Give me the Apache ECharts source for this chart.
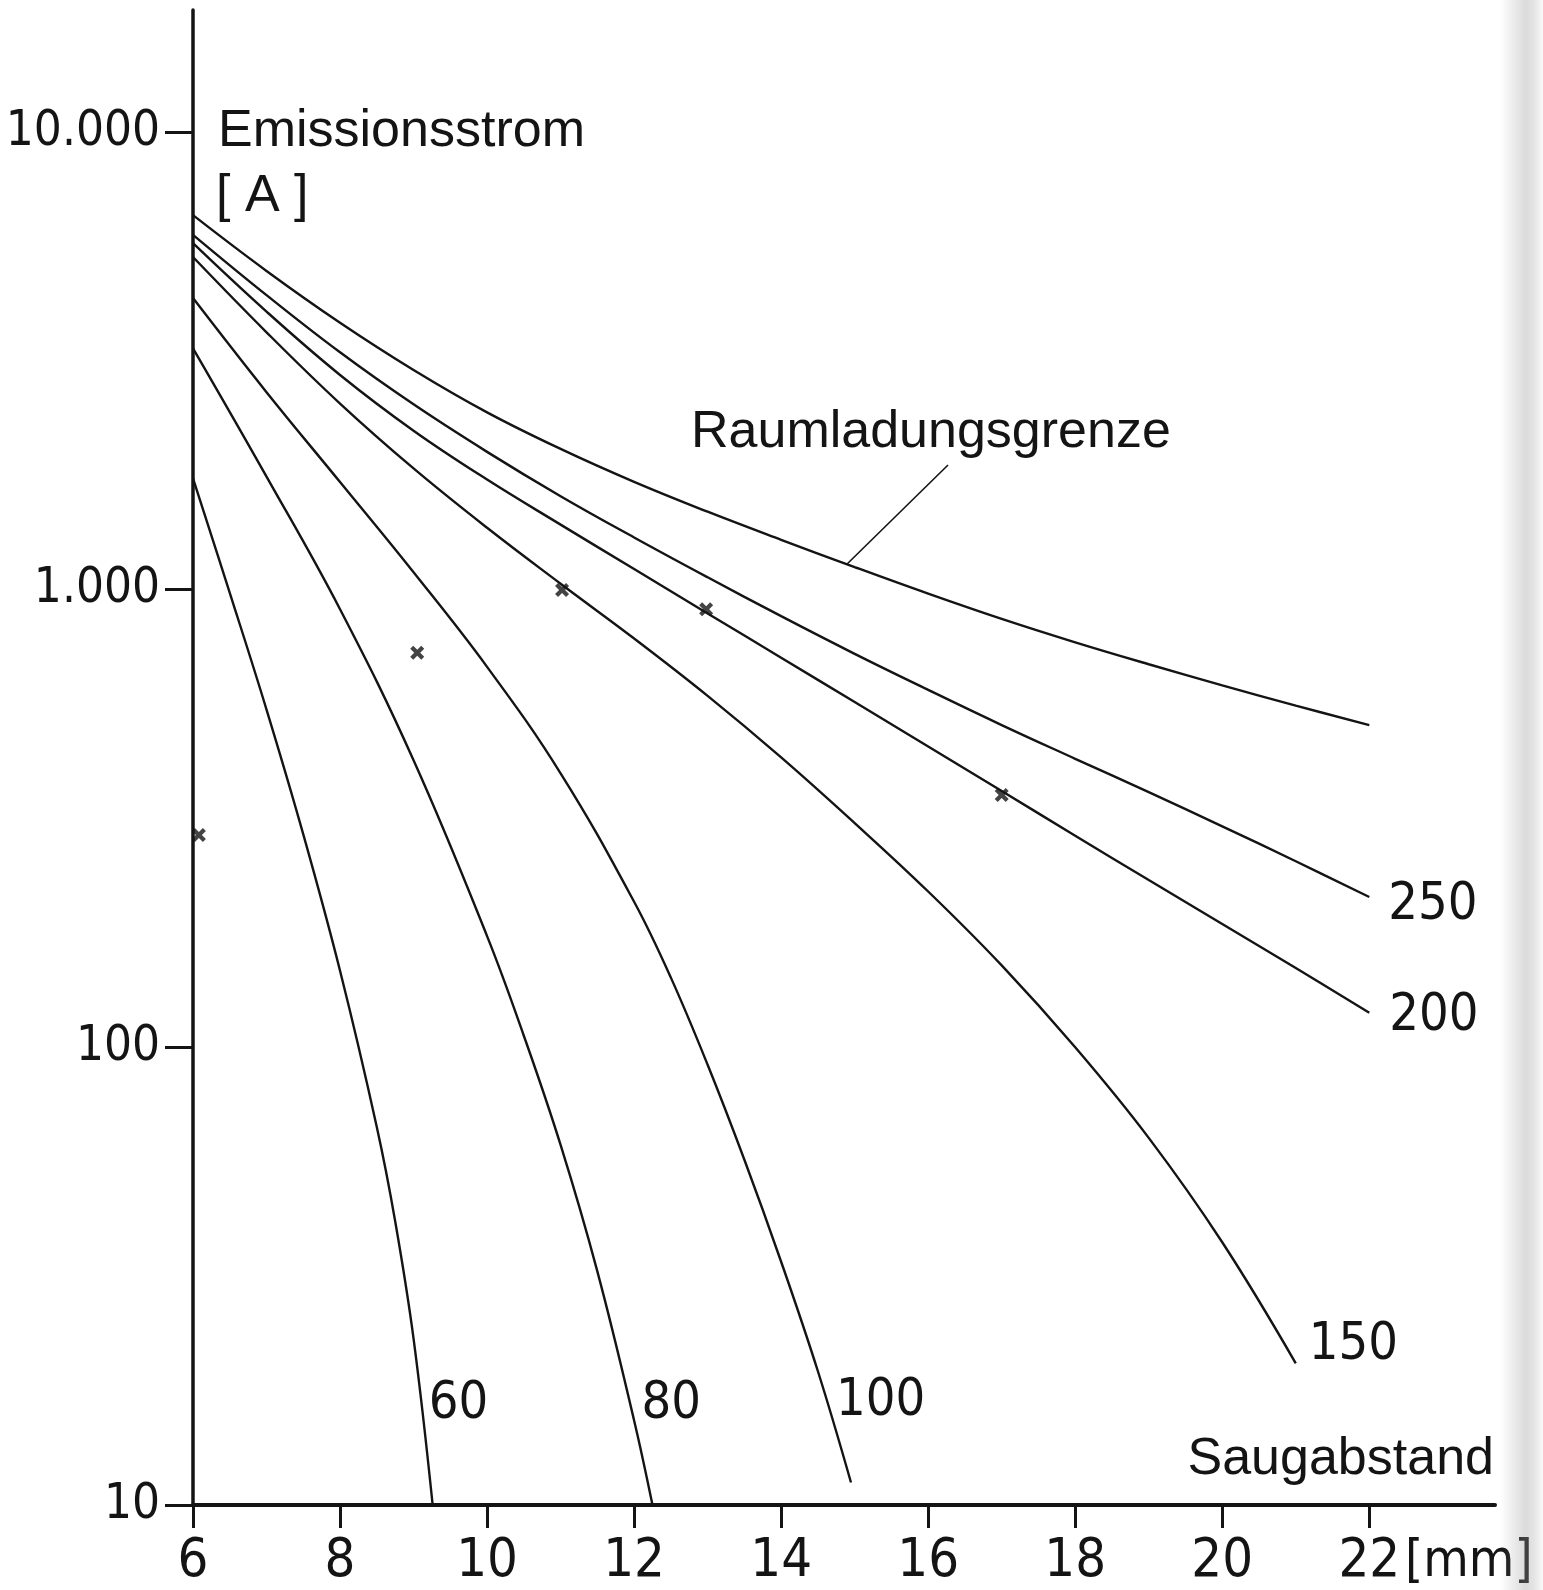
<!DOCTYPE html>
<html>
<head>
<meta charset="utf-8">
<title>Emissionsstrom</title>
<script src="https://cdn.jsdelivr.net/npm/echarts@6/dist/echarts.min.js"></script>
<style>
  html, body { margin: 0; padding: 0; background: #fff; }
  #chart { width: 1543px; height: 1590px; }
</style>
</head>
<body>
<div id="chart"></div>
<script>
// === DATA ===
// x: Saugabstand [mm], y: Emissionsstrom [A]
const xTicks = [6, 8, 10, 12, 14, 16, 18, 20, 22];
const yTicks = [10, 100, 1000, 10000];

const raumladungsgrenze = [[6, 6580], [7, 4970], [8, 3830], [9, 3020], [10, 2440], [11, 2030], [12, 1720], [13, 1480], [14, 1285], [15, 1120], [16, 980], [17, 863], [18, 767], [19, 687], [20, 618], [21, 558], [22, 506]];
const curve250 = [[6, 5960], [7, 4400], [8, 3300], [9, 2540], [10, 2000], [11, 1600], [12, 1300], [13, 1064], [14, 875], [15, 724], [16, 604], [17, 506], [18, 427], [19, 361], [20, 304], [21, 255], [22, 213]];
const curve200 = [[6, 5715], [7, 4050], [8, 2945], [9, 2225], [10, 1740], [11, 1387], [12, 1109], [13, 887], [14, 710], [15, 568], [16, 454], [17, 363], [18, 290], [19, 232], [20, 186], [21, 149], [22, 119]];
const curve150 = [[6, 5330], [7, 3650], [8, 2550], [9, 1840], [10, 1365], [11, 1030], [12, 782], [13, 586], [14, 430], [15, 309], [16, 219], [17, 151], [18, 100], [19, 63.4], [20, 37.5], [21, 20.4]];
const curve100 = [[6, 4335], [7, 2700], [8, 1718], [9, 1091], [10, 678], [11, 397], [12, 208], [12.5, 142], [13, 91.6], [13.5, 56.8], [14, 34.0], [14.5, 19.6], [14.95, 11.2]];
const curve80 = [[6, 3367], [7, 1766], [8, 906], [9, 424], [10, 175], [10.5, 106], [11, 61.2], [11.5, 32.4], [12, 15.3], [12.25, 10]];
const curve60 = [[6, 1750], [6.5, 984], [7, 547], [7.5, 292], [8, 147], [8.5, 67], [8.75, 41.7], [9, 23.1], [9.26, 10]];

// measured points (x marks)
const messpunkte = [[6.08, 291], [9.05, 728], [11.02, 998], [12.98, 906], [17.0, 356]];

// leader from the top curve to its caption
const leaderLine = [[14.89, 1135], [16.27, 1872]];

// === STYLE ===
const ink = '#141414';
const textFont = "'Liberation Sans', Arial, sans-serif";
const numFont = "'DejaVu Sans Condensed', 'Liberation Sans', sans-serif";
const crossPath = 'path://M0,3 L3,0 L7,4 L11,0 L14,3 L10,7 L14,11 L11,14 L7,10 L3,14 L0,11 L4,7 Z';

// German thousands separator: 10000 -> 10.000
function formatDe(v) {
    return String(Math.round(v)).replace(/\B(?=(\d{3})+(?!\d))/g, '.');
}

// one line series per curve
function curveSeries(name, data, labelOffset) {
    return {
        name: name,
        type: 'line',
        data: data,
        smooth: 0.4,
        showSymbol: false,
        silent: true,
        lineStyle: { color: ink, width: 2.4 },
        endLabel: {
            show: labelOffset != null,
            formatter: name,
            distance: 0,
            offset: labelOffset || [0, 0],
            fontFamily: numFont,
            fontSize: 52,
            color: ink
        },
        z: 3
    };
}

// === RENDER ===
const chart = echarts.init(document.getElementById('chart'), null, { renderer: 'canvas' });

const option = {
    animation: false,
    backgroundColor: '#ffffff',
    grid: {
        left: 193,
        right: 48,
        top: 10,
        bottom: 85,
        containLabel: false,
        outerBoundsMode: 'none'
    },
    xAxis: {
        type: 'value',
        min: 6,
        max: 23.71,
        axisLine: { show: true, onZero: false, lineStyle: { color: ink, width: 4 } },
        axisTick: { show: true, customValues: xTicks, length: 23, lineStyle: { color: ink, width: 3 } },
        axisLabel: {
            customValues: xTicks,
            margin: 57,
            verticalAlign: 'middle',
            fontFamily: numFont,
            fontSize: 54,
            color: ink
        },
        splitLine: { show: false }
    },
    yAxis: {
        type: 'log',
        logBase: 10,
        min: 10,
        max: 18470,
        axisLine: { show: true, onZero: false, lineStyle: { color: ink, width: 3.5 } },
        axisTick: { show: true, customValues: yTicks, length: 28, lineStyle: { color: ink, width: 3 } },
        axisLabel: {
            customValues: yTicks,
            margin: 33,
            fontFamily: numFont,
            fontSize: 49,
            color: ink,
            formatter: function (v) { return formatDe(v); }
        },
        splitLine: { show: false },
        minorTick: { show: false }
    },
    graphic: [
        { type: 'text', x: 218, y: 132, style: { text: 'Emissionsstrom', font: '52px ' + textFont, fill: ink, align: 'left', verticalAlign: 'middle' } },
        { type: 'text', x: 216, y: 197, style: { text: '[ A ]', font: '52px ' + textFont, fill: ink, align: 'left', verticalAlign: 'middle' } },
        { type: 'text', x: 691, y: 433, style: { text: 'Raumladungsgrenze', font: '52px ' + textFont, fill: ink, align: 'left', verticalAlign: 'middle' } },
        { type: 'text', x: 1494, y: 1460, style: { text: 'Saugabstand', font: '52px ' + textFont, fill: ink, align: 'right', verticalAlign: 'middle' } },
        { type: 'text', x: 1405, y: 1562, style: { text: '[mm]', font: '52px ' + numFont, fill: ink, align: 'left', verticalAlign: 'middle' } },
        {
            type: 'rect', x: 1500, y: 0, silent: true,
            shape: { width: 43, height: 1590 },
            style: {
                fill: new echarts.graphic.LinearGradient(0, 0, 1, 0, [
                    { offset: 0, color: 'rgba(150,150,150,0)' },
                    { offset: 0.6, color: 'rgba(150,150,150,0.35)' },
                    { offset: 0.8, color: 'rgba(150,150,150,0.25)' },
                    { offset: 1, color: 'rgba(150,150,150,0.05)' }
                ])
            }
        }
    ],
    series: [
        curveSeries('Raumladungsgrenze', raumladungsgrenze, null),
        curveSeries('250', curve250, [19, 8]),
        curveSeries('200', curve200, [20, 4]),
        curveSeries('150', curve150, [13, -18]),
        curveSeries('100', curve100, [-15, -81]),
        curveSeries('80', curve80, [-11, -101]),
        curveSeries('60', curve60, [-4, -101]),
        {
            name: 'Leader',
            type: 'line',
            data: leaderLine,
            showSymbol: false,
            silent: true,
            lineStyle: { color: ink, width: 1.6 },
            z: 3
        },
        {
            name: 'Messpunkte',
            type: 'scatter',
            data: messpunkte,
            symbol: crossPath,
            symbolSize: 14,
            itemStyle: { color: ink },
            silent: true,
            z: 4
        }
    ]
};

chart.setOption(option);

window.addEventListener('resize', function () {
    chart.resize();
});
</script>
</body>
</html>
